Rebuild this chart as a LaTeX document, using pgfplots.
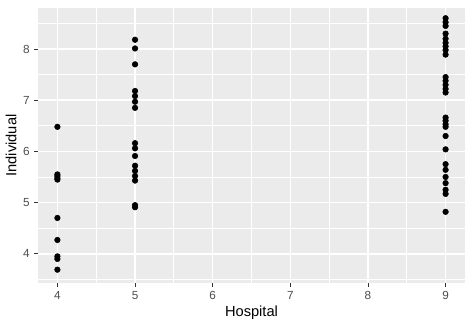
\documentclass[border=0pt]{standalone}
\usepackage{fontspec}
\setmainfont{Liberation Sans}
\usepackage{pgfplots}
\pgfplotsset{compat=1.18}
\definecolor{panel}{HTML}{EBEBEB}
\definecolor{grey30}{HTML}{4D4D4D}
\definecolor{grey20}{HTML}{333333}
\begin{document}
\begin{tikzpicture}
\begin{axis}[
  name=ax,
  scale only axis,
  width=320.25pt, height=206.25pt,
  xmin=3.75, xmax=9.25, ymin=3.43, ymax=8.80,
  axis background/.style={fill=panel},
  axis line style={draw=none},
  xtick={4,5,6,7,8,9}, ytick={4,5,6,7,8},
  minor xtick={4.5,5.5,6.5,7.5,8.5},
  minor ytick={3.5,4.5,5.5,6.5,7.5,8.5},
  grid=both,
  major grid style={white, line width=1.1pt},
  minor grid style={white, line width=0.55pt},
  tick align=outside,
  major tick length=2.75pt,
  minor tick length=0pt,
  tick style={grey20, line width=0.6pt},
  xtick pos=bottom, ytick pos=left,
  tick label style={font=\fontsize{8.8}{10}\selectfont, text=grey30},
  /pgf/number format/assume math mode=true,
  xlabel={Hospital}, ylabel={Individual},
  label style={font=\fontsize{11}{13}\selectfont},
  xlabel style={yshift=2pt},
  ylabel style={yshift=-2pt},
]
\addplot[only marks, mark=*, mark size=2.1pt, black] coordinates {
(4,6.48) (4,5.55) (4,5.52) (4,5.48) (4,5.45) (4,4.70) (4,4.27) (4,3.95) (4,3.90) (4,3.69)
(5,8.18) (5,8.01) (5,7.70) (5,7.18) (5,7.08) (5,6.97) (5,6.85) (5,6.16) (5,6.06) (5,5.91)
(5,5.72) (5,5.62) (5,5.52) (5,5.43) (5,4.95) (5,4.91)
(9,8.60) (9,8.52) (9,8.45) (9,8.30) (9,8.20) (9,8.12) (9,8.05) (9,7.98) (9,7.89)
(9,7.45) (9,7.38) (9,7.30) (9,7.22) (9,7.15) (9,6.66) (9,6.60) (9,6.53) (9,6.48)
(9,6.30) (9,6.04) (9,5.75) (9,5.64) (9,5.50) (9,5.38) (9,5.25) (9,5.17) (9,4.82)
};
\end{axis}
\path (ax.south west) ++(-28.5pt,-33.75pt) coordinate (bl);
\path (ax.north east) ++(6pt,6pt) coordinate (tr);
\useasboundingbox (bl) rectangle (tr);
\end{tikzpicture}
\end{document}
